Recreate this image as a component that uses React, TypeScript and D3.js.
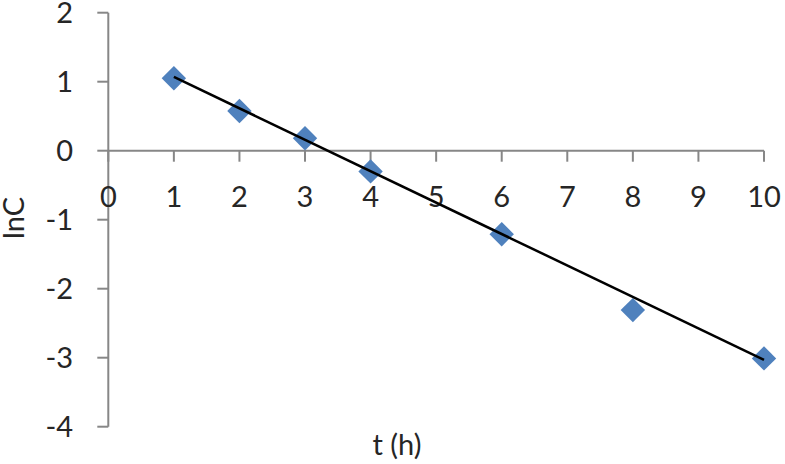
import React from "react";
import * as d3 from "d3";

const tValues = [1, 2, 3, 4, 6, 8, 10];
const lnCValues = [1.05, 0.575, 0.18, -0.3, -1.21, -2.31, -3.01];
const trendX = [1, 10];
const trendY = [1.07, -3.03];
const xTicks = [0, 1, 2, 3, 4, 5, 6, 7, 8, 9, 10];
const yTicks = [2, 1, 0, -1, -2, -3, -4];
const xTitle = "t (h)";
const yTitle = "lnC";

const W = 785;
const H = 464;
const FONT = "Lato, 'Open Sans', sans-serif";

export default function App() {
  const x = d3.scaleLinear().domain([0, 10]).range([108.3, 764]);
  const y = d3.scaleLinear().domain([-4, 2]).range([426.7, 12.7]);
  const axisColor = "#878787";
  const diamond = d3.symbol().type(d3.symbolDiamond2).size(380)();
  const line = d3
    .line<number>()
    .x((_, i) => x(trendX[i]))
    .y((d) => y(d));

  return (
    <svg
      width={W}
      height={H}
      style={{ position: "absolute", left: 0, top: 0, background: "#fff" }}
    >
      {/* y axis */}
      <line x1={x(0)} x2={x(0)} y1={y(2)} y2={y(-4)} stroke={axisColor} strokeWidth={2} />
      {yTicks.map((t) => (
        <g key={"yt" + t}>
          <line x1={x(0) - 11} x2={x(0)} y1={y(t)} y2={y(t)} stroke={axisColor} strokeWidth={2} />
          <text
            x={73}
            y={y(t)}
            dy="0.36em"
            textAnchor="end"
            fontFamily={FONT}
            fontSize={29}
            fill="#262626"
          >
            {t < 0 ? "-" + Math.abs(t) : String(t)}
          </text>
        </g>
      ))}
      {/* x axis */}
      <line x1={x(0)} x2={x(10)} y1={y(0)} y2={y(0)} stroke={axisColor} strokeWidth={2} />
      {xTicks.map((t) => (
        <g key={"xt" + t}>
          <line x1={x(t)} x2={x(t)} y1={y(0)} y2={y(0) + 11} stroke={axisColor} strokeWidth={2} />
          <text
            x={x(t)}
            y={207}
            textAnchor="middle"
            fontFamily={FONT}
            fontSize={29}
            fill="#262626"
          >
            {String(t)}
          </text>
        </g>
      ))}
      {/* markers */}
      {tValues.map((t, i) => (
        <path
          key={"p" + i}
          d={diamond || ""}
          transform={`translate(${x(t)},${y(lnCValues[i])})`}
          fill="#4F81BD"
        />
      ))}
      {/* trend line */}
      <path d={line(trendY) || ""} fill="none" stroke="#000" strokeWidth={2.5} />
      {/* titles */}
      <text
        x={397}
        y={455}
        textAnchor="middle"
        fontFamily={FONT}
        fontSize={29}
        fill="#262626"
      >
        {xTitle}
      </text>
      <text
        transform="translate(24,218) rotate(-90)"
        textAnchor="middle"
        fontFamily={FONT}
        fontSize={29}
        fill="#262626"
      >
        {yTitle}
      </text>
    </svg>
  );
}
